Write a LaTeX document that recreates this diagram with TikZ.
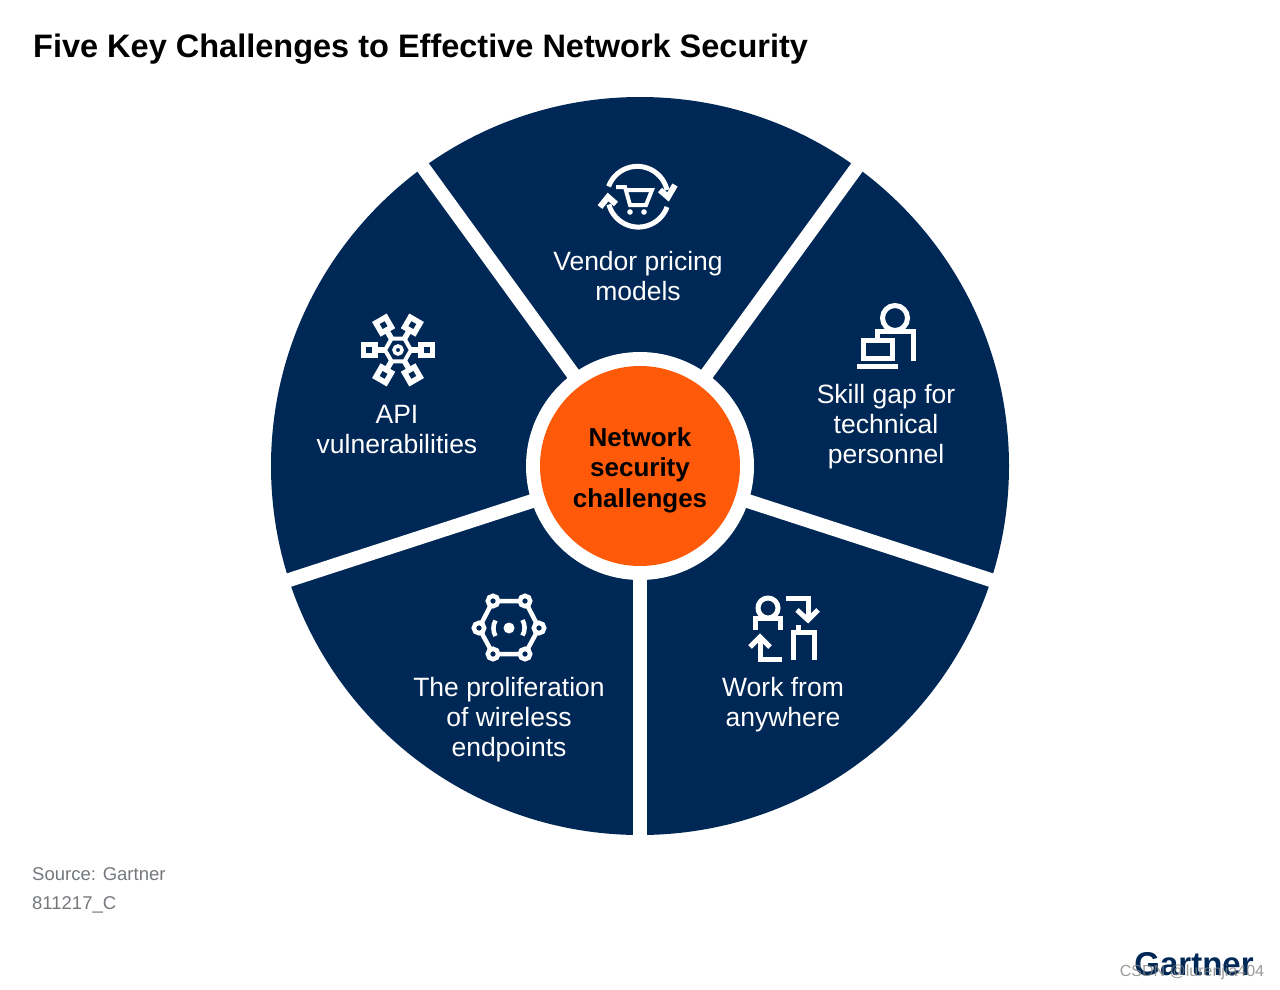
\documentclass[tikz,border=0pt]{standalone}
\usepackage{fontspec}
\setmainfont{Liberation Sans}
\usetikzlibrary{positioning,arrows.meta,calc,shapes.geometric}
\definecolor{gartnerNavy}{HTML}{002856}
\definecolor{hubOrange}{HTML}{FF5A0A}
\definecolor{sourceGrey}{HTML}{74787C}

\begin{document}
\begin{tikzpicture}[
    x=1pt,
    y=-1pt,
    every node/.style={align=center,inner sep=0pt},
    segmentLabel/.style={text=white,font=\fontsize{26.5}{30}\selectfont},
    sourceLabel/.style={text=sourceGrey,anchor=west,font=\fontsize{18.5}{22}\selectfont},
    iconLine/.style={draw=white,line width=5pt,fill=none},
    thinIcon/.style={draw=white,line width=4.5pt,fill=none}
]
\useasboundingbox (0,0) rectangle (1280,990);

% Wheel
\coordinate (hubCentre) at (640,466);
\fill[gartnerNavy] (hubCentre) circle (369);
\foreach \a in {18,90,162,234,306}
    \draw[white,line width=14pt] (hubCentre) -- ++(\a:380);
\fill[white] (hubCentre) circle (114);

% Nodes
\node[circle,fill=hubOrange,minimum size=200pt] (hub) at (hubCentre) {};
\node[font=\fontsize{26}{30.5}\selectfont\bfseries] (hubLabel) at (640,470) {Network\\security\\challenges};
\node[segmentLabel] (vendor) at (638,276.5) {Vendor pricing\\models};
\node[segmentLabel] (skill) at (886,426.5) {Skill gap for\\technical\\personnel};
\node[segmentLabel] (work) at (783,705) {Work from\\anywhere};
\node[segmentLabel] (wireless) at (509,720) {The proliferation\\of wireless\\endpoints};
\node[segmentLabel] (api) at (397,429.5) {API\\vulnerabilities};

% Title and footer
\node[anchor=west,font=\fontsize{32.5}{38}\selectfont\bfseries] (title) at (33,49.5) {Five Key Challenges to Effective Network Security};
\node[sourceLabel] (source) at (32,874) {Source: Gartner};
\node[sourceLabel] (figureId) at (32,905) {811217\_C};
\node[text=gartnerNavy,font=\fontsize{33}{36}\selectfont\bfseries] (logo) at (1194,964) {Gartner};
\node[text=gray,opacity=.8,font=\fontsize{16}{18}\selectfont] (watermark) at (1192,972) {CSDN @lurenjia404};

% Icon: cart
\draw[iconLine] (667,190) arc (-13:-160:30.5);
\draw[iconLine] (667,207) arc (20:165:30.5);
\draw[iconLine,line width=6pt] (660,190) -- (668,197) -- (675,185);
\draw[iconLine,line width=6pt] (600,207) -- (608,197) -- (616,204);
\draw[thinIcon,line width=4pt] (616,187) -- (625,187) -- (630,205) -- (646,205) -- (652,190) -- (626,190);
\fill[white] (630,212) circle (2.8) (644,212) circle (2.8);

% Icon: laptop
\draw[iconLine] (895,318) circle (12.5);
\draw[iconLine] (877,340) -- (877,331) -- (913,331) -- (913,361);
\draw[iconLine] (863,340) rectangle (892,358);
\draw[iconLine] (857,366) -- (898,366);

% Icon: api
\foreach \a in {0,60,120,180,240,300}
    \draw[iconLine,line width=5.5pt,shift={(398,350)},rotate=\a] (0,0) -- (22,0)
        (23,-5.7) rectangle (34.5,5.7);
\node[regular polygon,regular polygon sides=6,draw=white,fill=gartnerNavy,line width=4pt,minimum size=26pt] (apiHex) at (398,350) {};
\draw[white,line width=3.5pt] (apiHex.center) circle (4);

% Icon: wireless
\draw[thinIcon] (493,601) -- (525,601) -- (539,628) -- (525,654) -- (493,654) -- (479,628) -- cycle;
\foreach \p in {(493,601),(525,601),(539,628),(525,654),(493,654),(479,628)}
    \draw[white,fill=gartnerNavy,line width=4.5pt] \p circle (5.2);
\fill[white] (509,628) circle (5.5);
\draw[thinIcon] (522.5,620) arc (-30:30:15.5);
\draw[thinIcon] (495.5,636) arc (150:210:15.5);

% Icon: work
\draw[iconLine] (768,608) circle (10);
\draw[iconLine] (755,630) -- (755,618) -- (780,618) -- (780,630);
\draw[iconLine] (786,598) -- (808,598) -- (808,620);
\draw[iconLine] (797,610) -- (808,620) -- (818,610);
\draw[iconLine] (782,659) -- (760,659) -- (760,637);
\draw[iconLine] (750,647) -- (760,637) -- (770,647);
\draw[iconLine] (793,660) -- (793,632) -- (814,632) -- (814,660);
\draw[iconLine] (798,625) -- (798,632);
\end{tikzpicture}
\end{document}
